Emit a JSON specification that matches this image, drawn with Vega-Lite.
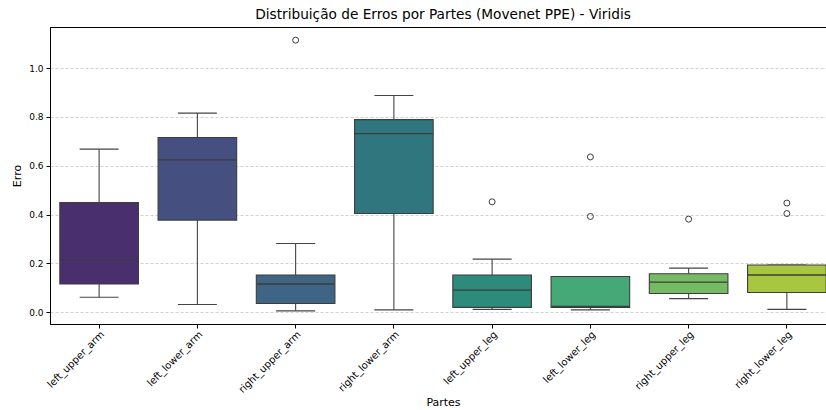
{
  "$schema": "https://vega.github.io/schema/vega-lite/v6.json",
  "width": 786,
  "height": 297,
  "autosize": {"type": "none"},
  "padding": {"left": 50, "top": 27, "right": 0, "bottom": 86},
  "background": "white",
  "title": {
    "text": "Distribuição de Erros por Partes (Movenet PPE) - Viridis",
    "fontSize": 13.7,
    "fontWeight": "normal",
    "font": "DejaVu Sans",
    "color": "#000000",
    "anchor": "middle",
    "frame": "group",
    "offset": 5
  },
  "config": {
    "font": "DejaVu Sans",
    "view": {"stroke": "#000000", "strokeWidth": 1}
  },
  "datasets": {
    "boxes": [
      {"part": "left_upper_arm", "lower": 0.061, "q1": 0.115, "median": 0.214, "q3": 0.449, "upper": 0.668},
      {"part": "left_lower_arm", "lower": 0.031, "q1": 0.377, "median": 0.624, "q3": 0.716, "upper": 0.816},
      {"part": "right_upper_arm", "lower": 0.005, "q1": 0.035, "median": 0.115, "q3": 0.152, "upper": 0.281},
      {"part": "right_lower_arm", "lower": 0.009, "q1": 0.404, "median": 0.732, "q3": 0.789, "upper": 0.888},
      {"part": "left_upper_leg", "lower": 0.011, "q1": 0.019, "median": 0.090, "q3": 0.152, "upper": 0.217},
      {"part": "left_lower_leg", "lower": 0.009, "q1": 0.019, "median": 0.023, "q3": 0.146, "upper": 0.146},
      {"part": "right_upper_leg", "lower": 0.055, "q1": 0.076, "median": 0.123, "q3": 0.157, "upper": 0.180},
      {"part": "right_lower_leg", "lower": 0.011, "q1": 0.080, "median": 0.152, "q3": 0.193, "upper": 0.193}
    ],
    "outliers": [
      {"part": "right_upper_arm", "value": 1.115},
      {"part": "left_upper_leg", "value": 0.452},
      {"part": "left_lower_leg", "value": 0.636},
      {"part": "left_lower_leg", "value": 0.392},
      {"part": "right_upper_leg", "value": 0.381},
      {"part": "right_lower_leg", "value": 0.447},
      {"part": "right_lower_leg", "value": 0.404}
    ]
  },
  "encoding": {
    "x": {
      "field": "part",
      "type": "nominal",
      "sort": ["left_upper_arm", "left_lower_arm", "right_upper_arm", "right_lower_arm", "left_upper_leg", "left_lower_leg", "right_upper_leg", "right_lower_leg"],
      "scale": {"paddingInner": 0, "paddingOuter": 0},
      "axis": {
        "title": "Partes",
        "titleFontSize": 11,
        "titleFontWeight": "normal",
        "titleColor": "#000000",
        "titlePadding": 2,
        "labelAngle": -45,
        "labelAlign": "right",
        "labelBaseline": "top",
        "labelFontSize": 10,
        "labelColor": "#000000",
        "labelPadding": 1,
        "domainColor": "#000000",
        "tickColor": "#000000",
        "tickSize": 4,
        "grid": false
      }
    }
  },
  "layer": [
    {
      "data": {"name": "boxes"},
      "mark": {"type": "rule", "color": "#444444", "strokeWidth": 1.1},
      "encoding": {
        "y": {
          "field": "lower",
          "type": "quantitative",
          "scale": {"domain": [-0.049, 1.169], "nice": false, "zero": false},
          "axis": {
            "title": "Erro",
            "titleFontSize": 11,
            "titleFontWeight": "normal",
            "titleColor": "#000000",
            "titlePadding": 6,
            "values": [0, 0.2, 0.4, 0.6, 0.8, 1.0],
            "format": ".1f",
            "labelFontSize": 9,
            "labelColor": "#000000",
            "labelPadding": 3,
            "domainColor": "#000000",
            "tickColor": "#000000",
            "tickSize": 4,
            "grid": true,
            "gridColor": "#c4c4c4",
            "gridDash": [3, 2],
            "gridWidth": 0.8
          }
        },
        "y2": {"field": "q1"}
      }
    },
    {
      "data": {"name": "boxes"},
      "mark": {"type": "rule", "color": "#444444", "strokeWidth": 1.1},
      "encoding": {
        "y": {"field": "q3", "type": "quantitative"},
        "y2": {"field": "upper"}
      }
    },
    {
      "data": {"name": "boxes"},
      "mark": {"type": "tick", "orient": "horizontal", "size": 39, "thickness": 1.1, "color": "#444444", "opacity": 1},
      "encoding": {"y": {"field": "lower", "type": "quantitative"}}
    },
    {
      "data": {"name": "boxes"},
      "mark": {"type": "tick", "orient": "horizontal", "size": 39, "thickness": 1.1, "color": "#444444", "opacity": 1},
      "encoding": {"y": {"field": "upper", "type": "quantitative"}}
    },
    {
      "data": {"name": "boxes"},
      "mark": {"type": "bar", "width": {"band": 0.8}, "stroke": "#3d3d3d", "strokeWidth": 1.1, "opacity": 1},
      "encoding": {
        "y": {"field": "q1", "type": "quantitative"},
        "y2": {"field": "q3"},
        "color": {
          "field": "part",
          "type": "nominal",
          "legend": null,
          "scale": {
            "domain": ["left_upper_arm", "left_lower_arm", "right_upper_arm", "right_lower_arm", "left_upper_leg", "left_lower_leg", "right_upper_leg", "right_lower_leg"],
            "range": ["#4a2f6e", "#465080", "#3e6583", "#30767f", "#2c8b7b", "#44a877", "#74bb63", "#a8c63f"]
          }
        }
      }
    },
    {
      "data": {"name": "boxes"},
      "mark": {"type": "tick", "orient": "horizontal", "size": 78, "thickness": 1.3, "color": "#3d3d3d", "opacity": 1},
      "encoding": {"y": {"field": "median", "type": "quantitative"}}
    },
    {
      "data": {"name": "outliers"},
      "mark": {"type": "point", "shape": "circle", "filled": false, "size": 36, "stroke": "#3d3d3d", "strokeWidth": 1, "opacity": 1},
      "encoding": {"y": {"field": "value", "type": "quantitative"}}
    }
  ]
}
